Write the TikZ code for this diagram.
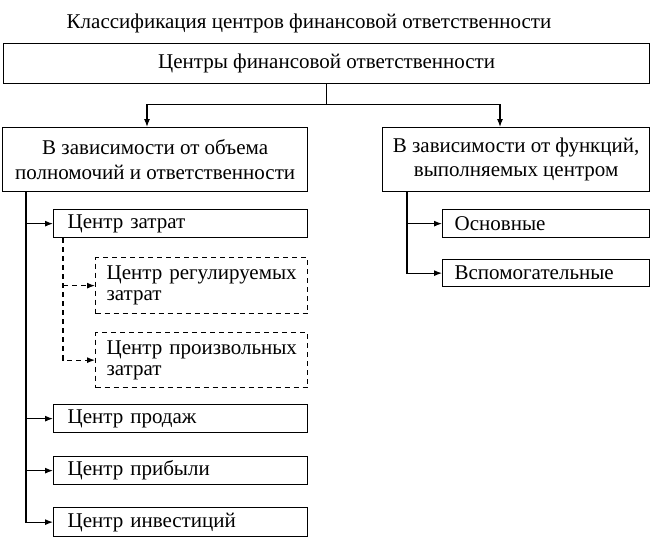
\documentclass[tikz,border=0pt]{standalone}
\usepackage{fontspec}
\setmainfont{Liberation Serif}
\usetikzlibrary{arrows.meta}
\begin{document}
\begin{tikzpicture}[x=1pt,y=-1pt,
  txt/.style={font=\fontsize{21}{25}\selectfont},
  box/.style={draw, line width=1.3pt, inner sep=0pt, anchor=north west, txt},
  lbox/.style={box, align=left, inner xsep=14pt},
  dbox/.style={box, align=left, inner xsep=11pt, dash pattern=on 5pt off 4pt, font=\fontsize{21}{21}\selectfont},
  ln/.style={line width=1.1pt},
  arr/.style={line width=1.1pt, -{Latex[length=8pt,width=6pt]}},
  darr/.style={arr, dash pattern=on 5pt off 4pt}]
\useasboundingbox (0,0) rectangle (651,538);
\node[txt, anchor=base] (title) at (309,28) {Классификация центров финансовой ответственности};
\node[box, minimum width=646pt, minimum height=40pt] (top) at (3,43) {Центры финансовой ответственности};
\node[box, minimum width=305pt, minimum height=64pt, align=center, font=\fontsize{21}{25}\selectfont] (L) at (2,127) {В зависимости от объема\\полномочий и ответственности};
\node[box, minimum width=267pt, minimum height=64pt, align=center, font=\fontsize{21}{24}\selectfont] (R) at (382,127) {В зависимости от функций,\\выполняемых центром};
\node[lbox, text width=226pt, minimum height=28pt] (c1) at (53,209) {Центр затрат};
\node[dbox, text width=190pt, minimum height=56pt] (d1) at (95,257) {\makebox[0pt][l]{Центр регулируемых}\\затрат};
\node[dbox, text width=190pt, minimum height=55pt] (d2) at (95,332) {\makebox[0pt][l]{Центр произвольных}\\затрат};
\node[lbox, text width=226pt, minimum height=28pt] (c2) at (53,404) {Центр продаж};
\node[lbox, text width=226pt, minimum height=28pt] (c3) at (53,456) {Центр прибыли};
\node[lbox, text width=226pt, minimum height=29pt] (c4) at (53,507) {Центр инвестиций};
\node[box, align=left, inner xsep=12pt, text width=183pt, minimum height=28pt] (r1) at (442,209) {Основные};
\node[box, align=left, inner xsep=12pt, text width=183pt, minimum height=27pt] (r2) at (442,259) {Вспомогательные};
% top connectors
\draw[ln] (top.south) -- ++(0,20) coordinate (j);
\draw[arr] (j) -| ([xshift=145pt]L.north west);
\draw[arr] (j) -| ([xshift=118pt]R.north west);
% left trunk
\coordinate (Lt) at ([xshift=24pt]L.south west);
\draw[arr] (Lt) |- (c4.west);
\draw[arr] (Lt |- c1.west) -- (c1.west);
\draw[arr] (Lt |- c2.west) -- (c2.west);
\draw[arr] (Lt |- c3.west) -- (c3.west);
% dashed trunk
\coordinate (Dt) at ([xshift=10pt]c1.south west);
\draw[darr] (Dt) |- (d2.west);
\draw[darr] (Dt |- d1.west) -- (d1.west);
% right trunk
\coordinate (Rt) at ([xshift=25pt]R.south west);
\draw[arr] (Rt) |- (r2.west);
\draw[arr] (Rt |- r1.west) -- (r1.west);
\end{tikzpicture}
\end{document}
